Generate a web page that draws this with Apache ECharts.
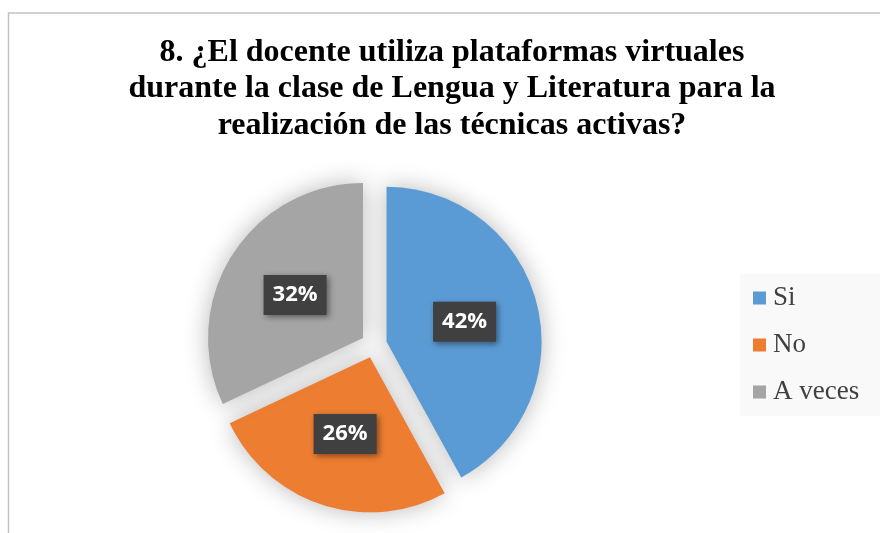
<!DOCTYPE html>
<html><head><meta charset="utf-8">
<script src="https://cdn.jsdelivr.net/npm/echarts@6/dist/echarts.min.js"></script>
<style>html,body{margin:0;padding:0;background:#fff}#c{width:880px;height:533px}</style>
</head><body><div id="c"></div>
<script>
const titleText = '8. ¿El docente utiliza plataformas virtuales\ndurante la clase de Lengua y Literatura para la\nrealización de las técnicas activas?';
const categories = ['Si', 'No', 'A veces'];
const values = [42, 26, 32];
const colors = ['#5B9BD5', '#ED7D31', '#A5A5A5'];

const chart = echarts.init(document.getElementById('c'), null, {renderer: 'canvas'});
chart.setOption({
  backgroundColor: '#ffffff',
  animation: false,
  color: colors,
  graphic: [{
    type: 'rect', silent: true, z: -1,
    shape: {x: 8.5, y: 13, width: 920, height: 600},
    style: {fill: 'none', stroke: '#c2c2c2', lineWidth: 1.5}
  }],
  title: {
    text: titleText,
    left: 452, top: 34, textAlign: 'center', padding: 0,
    textStyle: {fontFamily: 'Liberation Serif', fontWeight: 'bold', fontSize: 32, lineHeight: 36.5, color: '#000'}
  },
  legend: {
    orient: 'vertical', left: 740, top: 274,
    padding: [9, 40, 9, 13],
    backgroundColor: '#f9f9f9',
    icon: 'rect', itemWidth: 13, itemHeight: 13, itemGap: 17,
    selectedMode: false,
    data: categories,
    textStyle: {fontFamily: 'Liberation Serif', fontSize: 27, lineHeight: 30, color: '#404040', padding: [0, 0, 0, 2]}
  },
  series: [{
    type: 'pie',
    center: [374, 345], radius: 155,
    startAngle: 90, clockwise: true,
    selectedMode: 'multiple', selectedOffset: 13,
    emphasis: {disabled: true},
    itemStyle: {shadowBlur: 24, shadowColor: 'rgba(0,0,0,0.28)'},
    label: {
      position: 'inside', formatter: '{c}%',
      fontFamily: 'Open Sans', fontWeight: 'bold', fontSize: 22, lineHeight: 30, color: '#fff',
      backgroundColor: '#404040', padding: [5, 9],
      shadowBlur: 6, shadowColor: 'rgba(0,0,0,0.45)', shadowOffsetX: 2, shadowOffsetY: 2
    },
    labelLine: {show: false},
    data: categories.map((n, i) => ({name: n, value: values[i], selected: true}))
  }]
});
</script></body></html>
